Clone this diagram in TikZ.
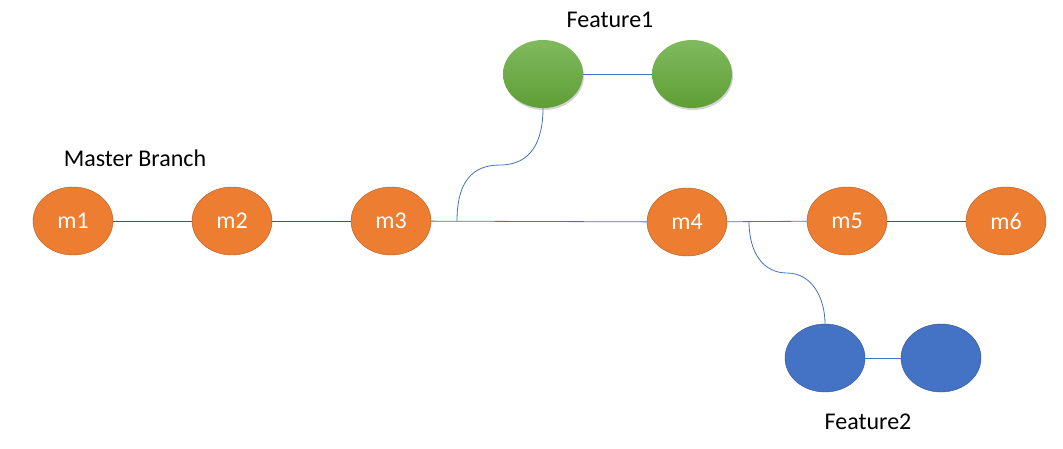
\documentclass[tikz,border=0pt]{standalone}
\usepackage{fontspec}
\setmainfont{Carlito}
\usetikzlibrary{shapes.geometric,shadows}
\definecolor{commitorange}{HTML}{ED7D31}
\definecolor{commitedge}{HTML}{AE5A21}
\definecolor{featblue}{HTML}{4472C4}
\definecolor{featedge}{HTML}{2F528F}
\definecolor{greentop}{HTML}{80BA5E}
\definecolor{greenbot}{HTML}{5E9E35}
\definecolor{linkgray}{HTML}{44546A}
\tikzset{
  commit/.style={ellipse,minimum width=80pt,minimum height=68pt,inner sep=0pt,
    fill=commitorange,draw=commitedge,text=white,font=\fontsize{24}{28}\selectfont},
  greencommit/.style={ellipse,minimum width=80pt,minimum height=68pt,inner sep=0pt,
    top color=greentop,bottom color=greenbot,draw=none,
    drop shadow={shadow xshift=1pt,shadow yshift=-2pt,opacity=0.35}},
  bluecommit/.style={ellipse,minimum width=80pt,minimum height=68pt,inner sep=0pt,
    fill=featblue,draw=featedge},
  branchlabel/.style={font=\fontsize{24}{28}\selectfont}
}
\begin{document}
\begin{tikzpicture}[x=1pt,y=-1pt]
      \useasboundingbox (0,0) rectangle (1063,449);
      \begin{scope}[every node/.style={commit}]
        \node (m1) at (73,221) {m1};
        \node (m2) at (232,221) {m2};
        \node (m3) at (391,221) {m3};
        \node (m4) at (687,222) {m4};
        \node (m5) at (847,221) {m5};
        \node (m6) at (1006,221) {m6};
      \end{scope}
      \begin{scope}[every node/.style={greencommit}]
        \node (g1) at (543,74) {};
        \node (g2) at (692,74) {};
      \end{scope}
      \begin{scope}[every node/.style={bluecommit}]
        \node (b1) at (825,358) {};
        \node (b2) at (941,358) {};
      \end{scope}
      \node[branchlabel] (feat1) at (610,20) {Feature1};
      \node[branchlabel] (master) at (135,158) {Master Branch};
      \node[branchlabel] (feat2) at (868,422) {Feature2};
      \coordinate (fork1) at (457,221);
      \coordinate (fork2) at (749,221);
      \begin{scope}[every edge/.style={draw=linkgray,line width=0.8pt}]
        \path (m1) edge (m2);
        \path (m2) edge (m3);
        \path (m5) edge (m6);
      \end{scope}
      \begin{scope}[every edge/.style={draw=featblue,line width=0.8pt}]
        \path (m3) edge (m4);
        \path (m4) edge (m5);
        \path (g1) edge (g2);
        \path (b1) edge (b2);
      \end{scope}
      \draw[featblue,line width=0.8pt] (fork1) .. controls (457,182) and (472,165) .. (500,165)
        .. controls (532,165) and (543,140) .. (g1.south);
      \draw[featblue,line width=0.8pt] (fork2) .. controls (749,254) and (764,273) .. (787,273)
        .. controls (812,273) and (825,298) .. (b1.north);
    \end{tikzpicture}
\end{document}
